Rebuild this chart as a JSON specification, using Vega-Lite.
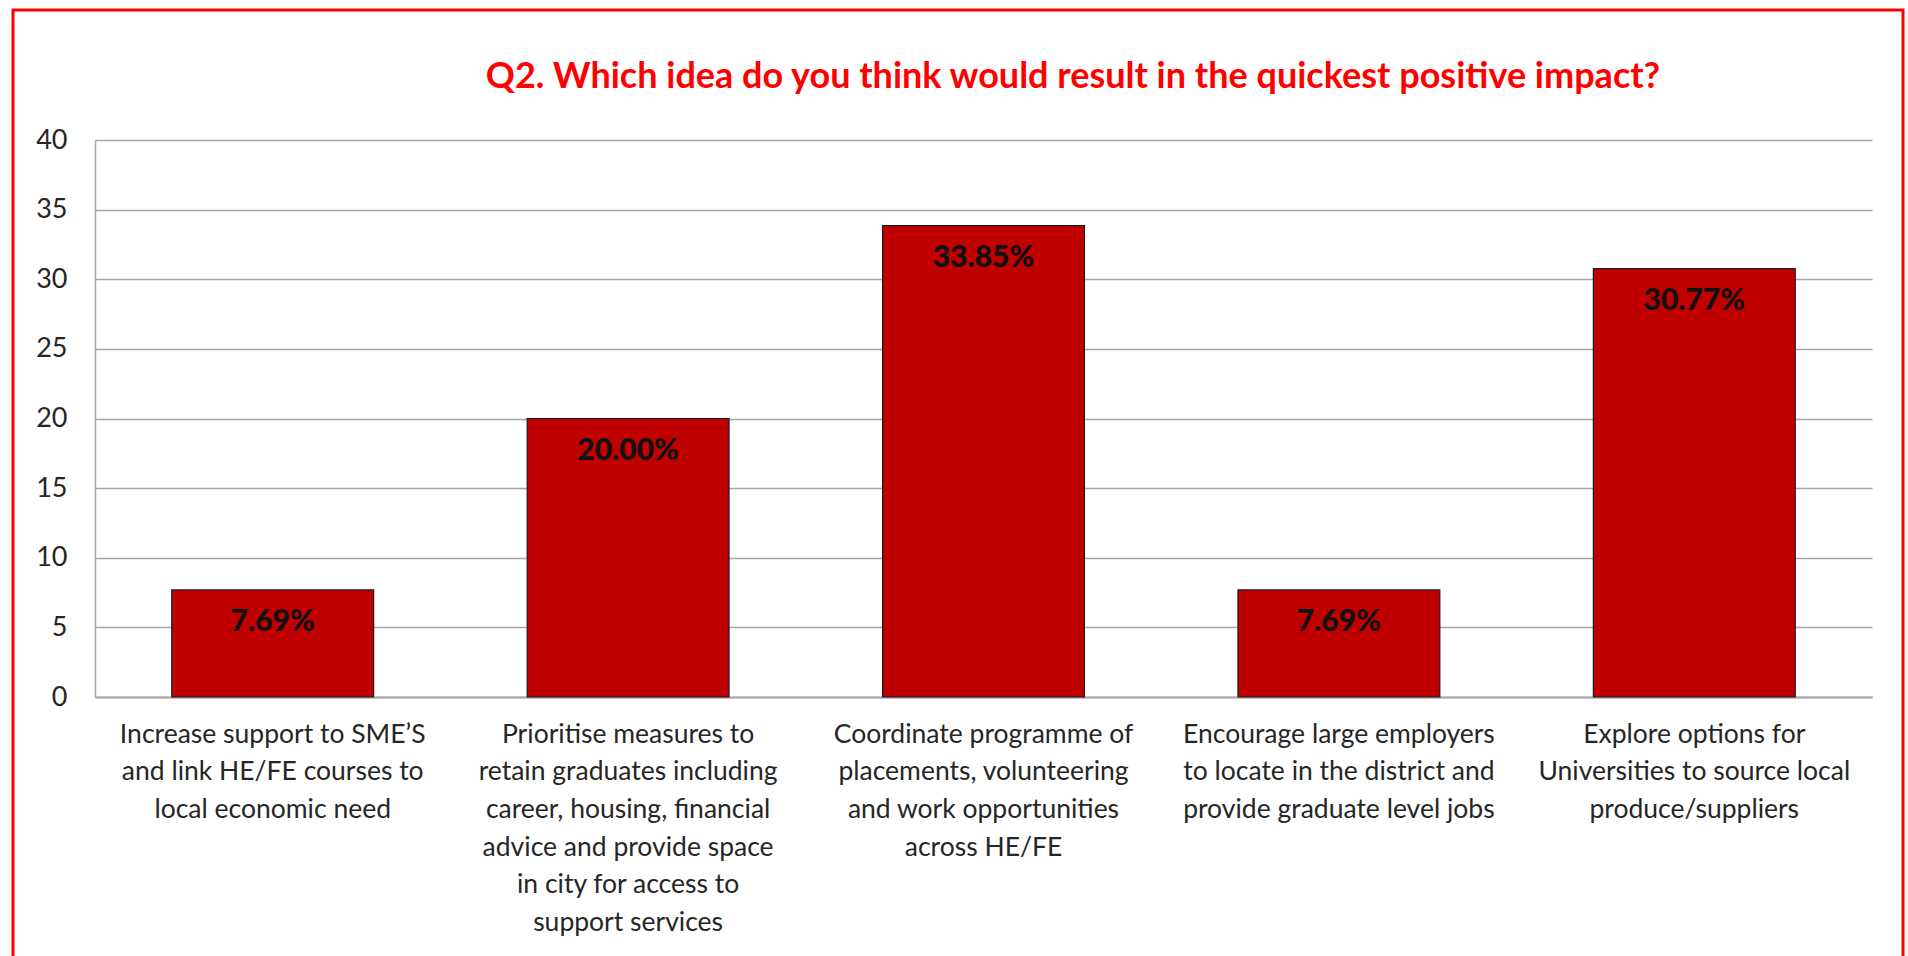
{
  "$schema": "https://vega.github.io/schema/vega-lite/v6.json",
  "autosize": {"type": "none"},
  "width": 1890,
  "height": 960,
  "padding": {"left": 13, "top": 10, "right": 5, "bottom": 0},
  "background": "white",
  "config": {
    "view": {"stroke": "#FF0000", "strokeWidth": 3},
    "font": "Lato"
  },
  "title": {
    "text": "Q2. Which idea do you think would result in the quickest positive impact?",
    "color": "#FF0000",
    "font": "Lato",
    "fontSize": 36,
    "fontWeight": "bold",
    "anchor": "middle",
    "frame": "group",
    "dx": 115,
    "offset": -86
  },
  "data": {
    "values": [
      {"idea": "Increase support to SME’S\nand link HE/FE courses to\nlocal economic need", "pct": 7.69},
      {"idea": "Prioritise measures to\nretain graduates including\ncareer, housing, financial\nadvice and provide space\nin city for access to\nsupport services", "pct": 20.00},
      {"idea": "Coordinate programme of\nplacements, volunteering\nand work opportunities\nacross HE/FE", "pct": 33.85},
      {"idea": "Encourage large employers\nto locate in the district and\nprovide graduate level jobs", "pct": 7.69},
      {"idea": "Explore options for\nUniversities to source local\nproduce/suppliers", "pct": 30.77}
    ]
  },
  "transform": [
    {"calculate": "format(datum.pct, '.2f') + '%'", "as": "label"}
  ],
  "encoding": {
    "x": {
      "field": "idea",
      "type": "nominal",
      "sort": null,
      "scale": {"range": [82, 1859], "paddingInner": 0.432, "paddingOuter": 0.216},
      "axis": {
        "title": null,
        "orient": "bottom",
        "offset": -273,
        "labelAngle": 0,
        "labelExpr": "split(datum.label, '\\n')",
        "labelFont": "Lato",
        "labelFontSize": 26.5,
        "labelColor": "#262626",
        "labelLineHeight": 37.7,
        "labelPadding": 24,
        "labelLimit": 0,
        "labelOverlap": false,
        "labelBound": false,
        "ticks": false,
        "domainColor": "#A6A6A6",
        "domainWidth": 2,
        "grid": false
      }
    },
    "y": {
      "field": "pct",
      "type": "quantitative",
      "scale": {"domain": [0, 40], "nice": false, "range": [687, 130]},
      "axis": {
        "title": null,
        "orient": "left",
        "offset": -82,
        "values": [0, 5, 10, 15, 20, 25, 30, 35, 40],
        "labelFont": "Lato",
        "labelFontSize": 27,
        "labelColor": "#262626",
        "labelPadding": 28,
        "ticks": false,
        "domainColor": "#A6A6A6",
        "domainWidth": 1.5,
        "grid": true,
        "gridColor": "#A6A6A6",
        "gridWidth": 1.5
      }
    }
  },
  "layer": [
    {
      "mark": {"type": "bar", "color": "#C00000", "stroke": "#1a1a1a", "strokeWidth": 1.2}
    },
    {
      "mark": {"type": "text", "baseline": "middle", "dy": 32, "font": "Lato", "fontSize": 30, "fontWeight": 900, "color": "#111111"},
      "encoding": {"text": {"field": "label"}}
    }
  ]
}
